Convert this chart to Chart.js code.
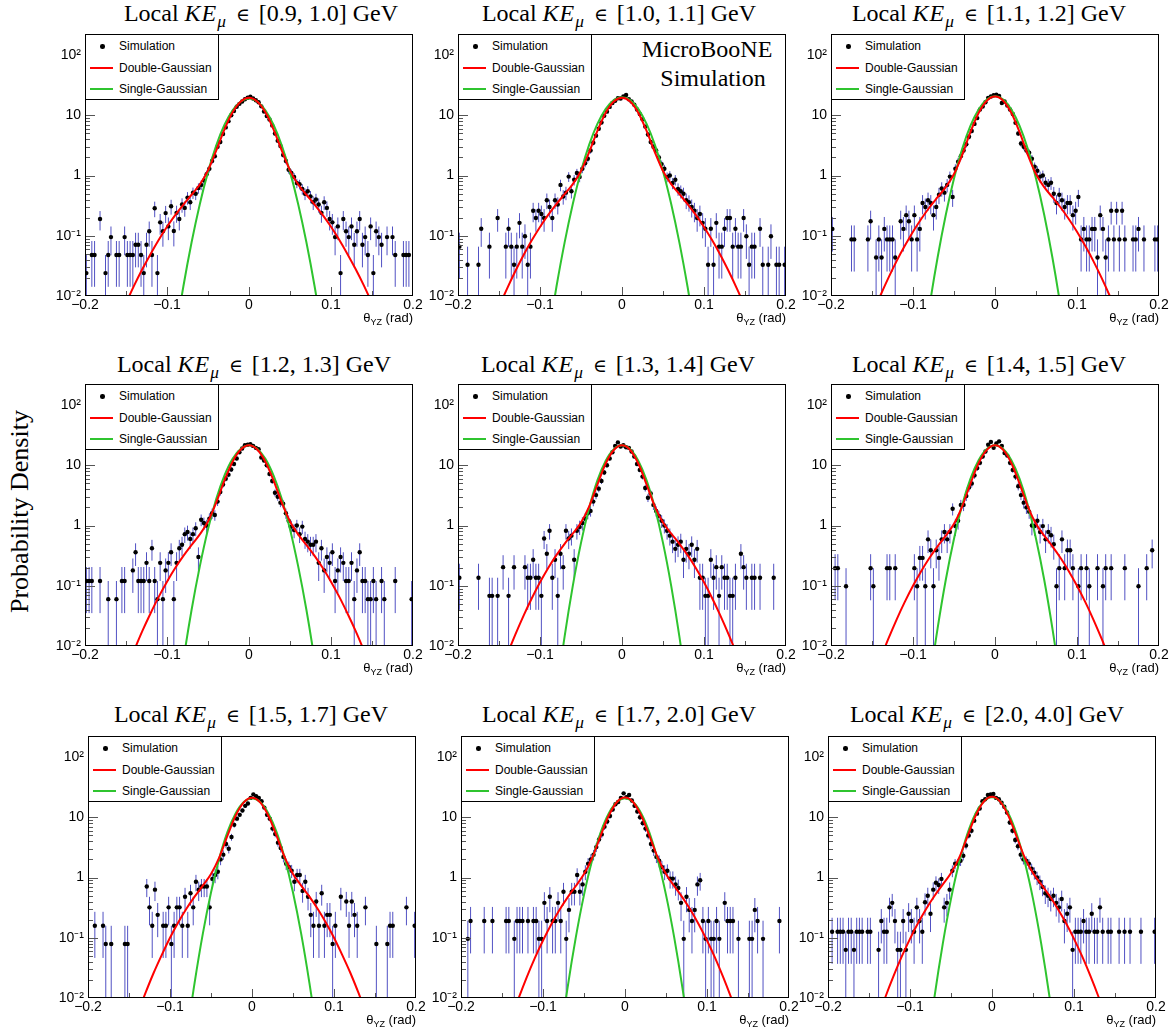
<!DOCTYPE html>
<html>
<head>
<meta charset="UTF-8">
<title>θYZ distributions in bins of local muon kinetic energy</title>
<script src="https://cdn.jsdelivr.net/npm/chart.js"></script>
<style>
    body {
        margin: 0;
        background: #fff;
        width: 1173px;
        height: 1032px;
        position: relative;
        overflow: hidden;
        font-family: "Liberation Sans", Arial, sans-serif;
    }
    .panel { position: absolute; width: 408px; height: 297px; }
    .panel canvas { position: absolute; left: 0; top: 0; }
    .title {
        position: absolute;
        width: 400px;
        text-align: center;
        font-family: "Liberation Serif", "Times New Roman", serif;
        font-size: 24px;
        line-height: 24px;
        white-space: nowrap;
    }
    .title i { letter-spacing: 1px; }
    .title sub {
        font-size: 0.72em;
        vertical-align: baseline;
        position: relative;
        top: 0.35em;
        line-height: 0;
        letter-spacing: 0;
    }
    .title .rel { font-family: "DejaVu Serif", serif; font-size: 0.78em; margin: 0 3px; }
    .legend {
        position: absolute;
        left: 60px;
        top: 5px;
        width: 134px;
        height: 66px;
        box-sizing: border-box;
        border: 1px solid #000;
        background: #fff;
        font-size: 12px;
    }
    .legend .entry { position: absolute; left: 0; width: 132px; height: 14px; line-height: 14px; }
    .legend .text { position: absolute; left: 33px; top: 0; white-space: nowrap; }
    .legend .dot { position: absolute; left: 14px; top: 5px; width: 4.5px; height: 4.5px; border-radius: 50%; background: #000; }
    .legend .line { position: absolute; left: 4px; top: 6px; width: 23px; height: 2px; }
    .axis-title {
        position: absolute;
        right: 20px;
        top: 282px;
        font-size: 13px;
        line-height: 13px;
        white-space: nowrap;
    }
    .axis-title sub { font-size: 9px; vertical-align: baseline; position: relative; top: 3px; line-height: 0; }
    .serif {
        position: absolute;
        font-family: "Liberation Serif", "Times New Roman", serif;
        white-space: nowrap;
    }
</style>
</head>
<body>
<div class="serif" style="left:-80px; top:498px; width:200px; text-align:center; font-size:26px; line-height:30px; transform:rotate(-90deg);">Probability Density</div>
<div class="serif" style="left:607px; top:37px; width:200px; text-align:center; font-size:24px; line-height:24px;">MicroBooNE</div>
<div class="serif" style="left:613px; top:66px; width:200px; text-align:center; font-size:24px; line-height:24px;">Simulation</div>

<script>
// Histogram binning of θYZ (rad)
const NBINS = 120, X_MIN = -0.2, X_MAX = 0.2;
const Y_MIN = 0.01, Y_MAX = 224;

const X_TICKS = [-0.2, -0.1, 0, 0.1, 0.2];
const X_TICK_LABELS = ['−0.2', '−0.1', '0', '0.1', '0.2'];
const Y_TICKS = [0.01, 0.1, 1, 10, 100];
const Y_TICK_LABELS = ['10⁻²', '10⁻¹', '1', '10', '10²'];

// Local muon kinetic energy slices (GeV)
const KE_BINS = [[0.9, 1.0], [1.0, 1.1], [1.1, 1.2], [1.2, 1.3], [1.3, 1.4],
                 [1.4, 1.5], [1.5, 1.7], [1.7, 2.0], [2.0, 4.0]];

// Density carried by a single entry in each slice (sets the error bars)
const UNIT = [0.0238, 0.0328, 0.0435, 0.060, 0.068, 0.098, 0.079, 0.096, 0.063];

// Simulated probability density per bin (0 = empty bin)
const SIM_1 = [
    .024, 0, .048, .048, 0, .19, 0, .024, .048, .095,
    0, .048, .048, 0, .095, .048, .048, .048, .071, .071,
    .048, .024, .071, .119, .048, .286, .024, .167, .119, .238,
    .143, .31, .12, .24, .19, .33, .29, .43, .36, .52,
    .50, .62, .70, .83, 1.05, 1.3, 1.75, 2.1, 3.0, 3.6,
    4.9, 6.3, 8.0, 10.0, 11.8, 13.9, 15.5, 17.0, 18.5, 19.6,
    20.3, 19.0, 17.8, 16.5, 14.1, 11.6, 9.7, 8.5, 6.8, 5.0,
    3.8, 3.1, 2.2, 1.75, 1.25, 1.1, .95, .75, .72, .6,
    .5, .55, .45, .36, .4, .33, .24, .36, .29, .19,
    .167, .095, .143, .024, .19, .119, .095, .143, .071, .119,
    .19, .071, .095, .048, .143, .024, .119, .095, .071, 0,
    .095, 0, .095, .048, 0, 0, .048, .048, .048, 0
];
const SIM_2 = [
    .066, 0, 0, .033, 0, 0, 0, .033, .131, 0,
    0, .066, 0, 0, .197, 0, 0, .066, .131, .066,
    .033, .066, .164, .066, .098, .033, .066, .26, .197, .26,
    .23, .197, .39, .30, .197, .39, .33, .70, .45, .52,
    .96, .55, .85, 1.1, .95, 1.3, 1.6, 1.9, 2.6, 3.5,
    4.6, 6.0, 7.6, 9.8, 11.5, 13.8, 16.0, 17.5, 19.2, 19.0,
    20.5, 21.8, 18.5, 17.0, 15.0, 12.5, 10.5, 8.6, 6.5, 4.8,
    3.6, 3.0, 2.6, 2.0, 1.55, 1.3, .95, 1.0, .75, .85,
    .6, .55, .50, .39, .36, .30, .26, .197, .23, .164,
    .131, .033, .131, .033, .164, .066, .066, .131, .197, .197,
    .066, .131, .066, .066, .197, .098, .033, .066, .066, 0,
    .131, .033, 0, .033, .098, 0, .033, .033, 0, .033
];
const SIM_3 = [
    .13, 0, 0, 0, 0, 0, 0, .087, .087, 0,
    0, 0, 0, .087, .174, 0, .0435, .087, .0435, .13,
    .087, .087, .087, .0435, 0, .174, .13, .22, .174, .087,
    .22, .087, .13, .35, .30, .39, .35, .22, .30, .48,
    .61, .52, .70, .96, .44, 1.3, 1.7, 2.1, 2.6, 3.3,
    4.4, 5.5, 7.2, 9.0, 12.5, 14.0, 16.5, 19.5, 20.5, 21.5,
    22.0, 21.0, 16.0, 17.0, 14.5, 12.5, 10.5, 7.5, 5.0, 3.4,
    3.0, 2.6, 2.4, 1.9, 1.4, 1.2, .96, 1.0, .76, .70,
    .76, .50, .35, .48, .39, .30, .35, .35, .22, .26,
    .44, .087, .13, .087, .087, .13, .13, .0435, .22, .13,
    .0435, .087, .26, .087, .26, .087, .26, .087, 0, 0,
    .087, .087, .13, 0, .087, 0, 0, 0, .087, .087
];
const SIM_4 = [
    .12, .12, .12, 0, 0, .12, 0, 0, .06, 0,
    0, .06, 0, .12, .12, 0, 0, .18, .36, .12,
    .12, .12, .24, .12, .42, .12, .06, .24, .06, .18,
    .24, .36, .06, .24, .42, .48, .72, .78, .6, .72,
    .9, .3, 1.25, 1.1, 1.0, 1.3, 1.6, 1.5, 2.5, 3.6,
    4.8, 6.0, 7.0, 8.5, 10.5, 13.0, 16.5, 19.0, 21.5, 22.0,
    22.5, 21.0, 19.5, 18.5, 13.5, 12.0, 10.0, 7.2, 5.5, 3.5,
    3.0, 2.4, 2.3, 1.6, 1.2, .96, .84, 1.0, .72, .96,
    .6, .54, .48, .48, .54, .24, .42, .18, .30, .24,
    .36, .12, .18, .30, .24, .12, .12, .24, .06, .18,
    .36, .12, .12, .06, .06, .12, .06, 0, .12, .06,
    0, 0, 0, .12, 0, 0, 0, 0, 0, .06
];
const SIM_5 = [
    .136, 0, 0, 0, 0, 0, 0, .136, 0, 0,
    0, .068, .068, 0, .068, 0, .204, 0, .068, 0,
    .204, 0, 0, 0, .204, .136, .136, .27, .136, .136,
    .068, .61, .34, .82, .136, .27, .068, .34, .204, .82,
    .61, .68, .27, .82, .95, 1.1, 1.3, 1.6, 1.75, 2.5,
    3.2, 4.1, 5.5, 7.6, 10.0, 13.0, 16.5, 21.0, 24.0, 20.5,
    21.5, 20.0, 19.5, 17.0, 14.0, 10.5, 8.4, 6.5, 4.2, 2.9,
    3.4, 2.2, 1.75, 1.45, 1.2, 1.0, .82, .68, .54, .41,
    .48, .54, .27, .41, .34, .48, .27, .41, .136, .136,
    .068, .068, .27, .136, .204, .068, .204, .136, .136, .068,
    .068, .136, 0, .34, .204, .136, 0, .136, .136, 0,
    .136, 0, 0, 0, 0, .136, 0, 0, 0, 0
];
const SIM_6 = [
    0, .196, .196, 0, 0, .098, 0, 0, 0, 0,
    0, 0, 0, 0, .196, .098, 0, 0, 0, 0,
    .196, .196, 0, .196, 0, 0, 0, 0, 0, 0,
    .196, .098, .29, .29, .098, .59, .39, .098, .39, .29,
    .59, .78, .59, .78, 1.9, .98, 1.2, 2.2, 2.2, 3.1,
    4.3, 5.0, 6.8, 9.0, 11.0, 14.0, 17.0, 22.0, 24.5, 19.5,
    23.0, 25.0, 21.0, 16.0, 14.5, 11.0, 8.4, 6.5, 4.5, 3.2,
    2.4, 2.0, 1.7, 1.0, .98, 1.2, .78, .98, .59, .78,
    .69, .49, .098, .196, .59, .196, .39, .39, .196, 0,
    .098, .196, 0, .196, .098, 0, 0, .196, 0, .098,
    .196, 0, .196, 0, 0, 0, 0, .196, 0, 0,
    0, 0, .098, 0, 0, .196, 0, .39, 0, 0
];
const SIM_7 = [
    0, 0, .158, 0, 0, .158, .079, 0, .079, 0,
    0, 0, 0, .079, .079, 0, 0, 0, 0, 0,
    0, .71, .32, .158, .63, .24, 0, .158, .158, .32,
    .079, .158, .32, .32, .158, .48, .158, .55, .32, .85,
    .63, .71, .71, .71, .32, .95, 1.1, 1.25, 2.0, 2.4,
    3.6, 3.0, 4.7, 7.5, 9.5, 11.0, 13.0, 15.5, 17.0, 21.0,
    24.0, 22.5, 21.0, 18.5, 14.5, 11.0, 9.5, 6.5, 5.3, 3.8,
    3.1, 2.2, 1.7, 1.5, 1.3, .85, 1.1, 1.1, .6, .85,
    .48, .24, .158, .40, .158, .55, .158, .24, .24, .079,
    .158, 0, .48, 0, .40, .158, .40, .24, .158, 0,
    0, .32, 0, 0, 0, .079, 0, 0, 0, .079,
    .158, .158, 0, 0, 0, 0, .32, 0, 0, .158
];
const SIM_8 = [
    0, 0, .096, .19, 0, 0, 0, 0, .19, 0,
    0, .19, 0, 0, 0, 0, .19, .19, 0, .096,
    .19, .19, .19, 0, .19, 0, .19, .19, .096, .096,
    .38, .19, .48, .19, .19, .38, .19, .58, .096, .29,
    .58, .58, 1.1, .58, .77, 1.25, 1.7, 2.0, 2.4, 3.2,
    4.3, 5.2, 7.0, 8.5, 10.5, 13.5, 16.5, 18.0, 21.0, 25.0,
    21.5, 23.5, 19.0, 15.5, 12.5, 10.0, 8.0, 6.5, 5.0, 3.6,
    2.8, 2.2, 1.9, 1.5, 1.25, 1.3, .96, .96, .77, .67,
    .38, .096, .48, .29, .19, .29, .77, .90, .19, .096,
    .19, .096, .096, .19, .096, 0, .38, .19, .19, .19,
    0, .096, 0, 0, 0, .096, .096, .29, .19, 0,
    .096, 0, 0, 0, 0, 0, .19, 0, 0, 0
];
const SIM_9 = [
    0, .126, 0, .126, .126, .126, .063, .126, .126, .063,
    .126, .126, .126, 0, .126, .126, 0, 0, .063, .19,
    .126, .126, .32, .38, .19, .063, .063, .19, .063, .25,
    .19, .126, .32, .19, .126, .39, .5, .25, .63, .82,
    .75, .95, .32, .38, .63, 1.3, 1.7, 1.7, 1.9, 2.3,
    3.4, 5.0, 6.0, 8.8, 11.5, 14.0, 18.5, 20.0, 23.5, 24.0,
    24.5, 21.0, 20.0, 17.5, 15.0, 12.0, 8.2, 6.0, 4.2, 3.3,
    2.4, 2.0, 1.9, 1.7, 1.4, 1.2, 1.0, .85, .7, .55,
    .5, .44, .5, .38, .32, .44, .19, .25, .32, .063,
    .126, .126, .126, .19, .126, .126, .25, .126, .126, .32,
    .126, 0, .126, .126, 0, 0, .126, 0, .126, 0,
    .126, 0, 0, 0, .126, 0, 0, 0, 0, .126
];

// Fitted curves, sampled every 0.01 rad
const DG_X = [-0.16, -0.15, -0.14, -0.13, -0.12, -0.11, -0.10, -0.09, -0.08, -0.07, -0.06,
              -0.05, -0.04, -0.03, -0.02, -0.01, 0, 0.01, 0.02, 0.03, 0.04, 0.05,
              0.06, 0.07, 0.08, 0.09, 0.10, 0.11, 0.12, 0.13, 0.14, 0.15, 0.16];
const SG_X = [-0.09, -0.08, -0.07, -0.06, -0.05, -0.04, -0.03, -0.02, -0.01, 0,
              0.01, 0.02, 0.03, 0.04, 0.05, 0.06, 0.07, 0.08, 0.09];

const DG_1 = [0.0037, 0.0076, 0.015, 0.028, 0.050, 0.086, 0.141, 0.22, 0.33, 0.48, 0.71, 1.22, 2.6, 5.8, 11.2, 16.9, 19.5,
              16.9, 11.2, 5.8, 2.6, 1.22, 0.71, 0.48, 0.33, 0.22, 0.141, 0.086, 0.050, 0.028, 0.015, 0.0076, 0.0037];
const SG_1 = [0.0021, 0.0145, 0.078, 0.335, 1.15, 3.15, 6.9, 12.1, 17.0, 19.0, 17.0, 12.1, 6.9, 3.15, 1.15, 0.335, 0.078, 0.0145, 0.0021];

const DG_2 = [0.0031, 0.0066, 0.0134, 0.026, 0.048, 0.084, 0.140, 0.222, 0.336, 0.49, 0.72, 1.19, 2.45, 5.5, 10.9, 16.9, 19.6,
              16.9, 10.9, 5.5, 2.45, 1.19, 0.72, 0.49, 0.336, 0.222, 0.140, 0.084, 0.048, 0.026, 0.0134, 0.0066, 0.0031];
const SG_2 = [0.0021, 0.0141, 0.077, 0.337, 1.18, 3.26, 7.2, 12.7, 17.9, 20.0, 17.9, 12.7, 7.2, 3.26, 1.18, 0.337, 0.077, 0.0141, 0.0021];

const DG_3 = [0.0021, 0.0047, 0.010, 0.020, 0.038, 0.068, 0.117, 0.19, 0.295, 0.437, 0.642, 1.06, 2.21, 5.24, 10.9, 17.5, 20.5,
              17.5, 10.9, 5.24, 2.21, 1.06, 0.642, 0.437, 0.295, 0.19, 0.117, 0.068, 0.038, 0.020, 0.010, 0.0047, 0.0021];
const SG_3 = [0.00078, 0.0066, 0.0435, 0.223, 0.89, 2.77, 6.67, 12.5, 18.3, 20.7, 18.3, 12.5, 6.67, 2.77, 0.89, 0.223, 0.0435, 0.0066, 0.00078];

const DG_4 = [0.0017, 0.0039, 0.0085, 0.0178, 0.035, 0.066, 0.117, 0.197, 0.313, 0.476, 0.713, 1.17, 2.41, 5.58, 11.5, 18.3, 21.5,
              18.3, 11.5, 5.58, 2.41, 1.17, 0.713, 0.476, 0.313, 0.197, 0.117, 0.066, 0.035, 0.0178, 0.0085, 0.0039, 0.0017];
const SG_4 = [0.00066, 0.0058, 0.040, 0.21, 0.87, 2.76, 6.77, 12.9, 18.9, 21.5, 18.9, 12.9, 6.77, 2.76, 0.87, 0.21, 0.040, 0.0058, 0.00066];

const DG_5 = [0.0013, 0.0031, 0.0072, 0.0156, 0.032, 0.062, 0.114, 0.198, 0.323, 0.498, 0.738, 1.12, 2.08, 4.79, 10.6, 17.95, 21.5,
              17.95, 10.6, 4.79, 2.08, 1.12, 0.738, 0.498, 0.323, 0.198, 0.114, 0.062, 0.032, 0.0156, 0.0072, 0.0031, 0.0013];
const SG_5 = [0.00012, 0.0015, 0.0143, 0.0998, 0.516, 1.97, 5.61, 11.8, 18.5, 21.5, 18.5, 11.8, 5.61, 1.97, 0.516, 0.0998, 0.0143, 0.0015, 0.00012];

const DG_6 = [0.001, 0.0025, 0.006, 0.0132, 0.0275, 0.054, 0.100, 0.175, 0.289, 0.452, 0.678, 1.07, 2.09, 4.93, 10.8, 18.0, 21.5,
              18.0, 10.8, 4.93, 2.09, 1.07, 0.678, 0.452, 0.289, 0.175, 0.100, 0.054, 0.0275, 0.0132, 0.006, 0.0025, 0.001];
const SG_6 = [0.0002, 0.0023, 0.0196, 0.126, 0.604, 2.19, 5.94, 12.1, 18.6, 21.5, 18.6, 12.1, 5.94, 2.19, 0.604, 0.126, 0.0196, 0.0023, 0.0002];

const DG_7 = [0.0008, 0.0021, 0.0052, 0.012, 0.026, 0.052, 0.100, 0.179, 0.303, 0.481, 0.733, 1.15, 2.15, 4.9, 10.6, 17.7, 21.2,
              17.7, 10.6, 4.9, 2.15, 1.15, 0.733, 0.481, 0.303, 0.179, 0.100, 0.052, 0.026, 0.012, 0.0052, 0.0021, 0.0008];
const SG_7 = [0.00018, 0.0021, 0.0178, 0.116, 0.565, 2.06, 5.66, 11.6, 17.9, 20.7, 17.9, 11.6, 5.66, 2.06, 0.565, 0.116, 0.0178, 0.0021, 0.00018];

const DG_8 = [0.0006, 0.0016, 0.0041, 0.0097, 0.0218, 0.046, 0.090, 0.166, 0.288, 0.468, 0.725, 1.14, 2.13, 4.84, 10.5, 17.8, 21.3,
              17.8, 10.5, 4.84, 2.13, 1.14, 0.725, 0.468, 0.288, 0.166, 0.090, 0.046, 0.0218, 0.0097, 0.0041, 0.0016, 0.0006];
const SG_8 = [0.00013, 0.0016, 0.0149, 0.1015, 0.516, 1.95, 5.48, 11.5, 17.9, 20.7, 17.9, 11.5, 5.48, 1.95, 0.516, 0.1015, 0.0149, 0.0016, 0.00013];

const DG_9 = [0.0006, 0.0017, 0.0043, 0.0104, 0.0233, 0.049, 0.096, 0.177, 0.307, 0.499, 0.769, 1.19, 2.14, 4.8, 10.6, 18.2, 21.9,
              18.2, 10.6, 4.8, 2.14, 1.19, 0.769, 0.499, 0.307, 0.177, 0.096, 0.049, 0.0233, 0.0104, 0.0043, 0.0017, 0.0006];
const SG_9 = [0.00007, 0.0010, 0.0107, 0.080, 0.443, 1.79, 5.31, 11.6, 18.4, 21.5, 18.4, 11.6, 5.31, 1.79, 0.443, 0.080, 0.0107, 0.0010, 0.00007];

const SIMS = [SIM_1, SIM_2, SIM_3, SIM_4, SIM_5, SIM_6, SIM_7, SIM_8, SIM_9];
const DGS = [DG_1, DG_2, DG_3, DG_4, DG_5, DG_6, DG_7, DG_8, DG_9];
const SGS = [SG_1, SG_2, SG_3, SG_4, SG_5, SG_6, SG_7, SG_8, SG_9];

// Page layout: top-left corner of each plot frame, title centre / baseline
const FRAMES = [[85, 34], [458, 34], [831, 34], [85, 384], [458, 384], [831, 384], [88, 736], [461, 736], [828, 736]];
const TITLE_X = [261, 619, 989, 254, 618, 989, 251, 619, 987];
const TITLE_BASE = [21, 371.7, 722];

const AXIS_W = 60, PAD_TOP = 5, PAD_RIGHT = 20, AXIS_H = 30;
const RED = '#ff0000', GREEN = '#2fc42f', ERR_COLOR = 'rgba(50, 50, 185, 0.85)';

const binCenter = i => X_MIN + (i + 0.5) * (X_MAX - X_MIN) / NBINS;

Chart.defaults.font.family = '"Liberation Sans", Arial, sans-serif';
Chart.defaults.color = '#000';

// Error bars under the markers, plus the ROOT-style frame with inward ticks
const rootFrame = {
    id: 'rootFrame',
    beforeDatasetsDraw(chart, args, opts) {
        const { ctx, chartArea: a, scales: { x, y } } = chart;
        ctx.save();
        ctx.beginPath();
        ctx.rect(a.left, a.top, a.right - a.left, a.bottom - a.top);
        ctx.clip();
        ctx.strokeStyle = ERR_COLOR;
        ctx.lineWidth = 1;
        ctx.beginPath();
        opts.values.forEach((v, i) => {
            if (!(v > 0)) return;
            const err = Math.sqrt(v * opts.unit);
            const px = x.getPixelForValue(binCenter(i));
            const top = y.getPixelForValue(v + err);
            const bot = v - err > 0 ? y.getPixelForValue(v - err) : a.bottom;
            ctx.moveTo(px, top);
            ctx.lineTo(px, Math.min(bot, a.bottom));
        });
        ctx.stroke();
        ctx.restore();
    },
    afterDraw(chart) {
        const { ctx, chartArea: a, scales: { x, y } } = chart;
        ctx.save();
        ctx.lineWidth = 1;
        ctx.strokeStyle = '#555';
        ctx.beginPath();
        // x ticks every 0.05, pointing up from the bottom edge
        for (let k = -3; k <= 3; k++) {
            const px = Math.round(x.getPixelForValue(k * 0.05)) + 0.5;
            const len = k % 2 === 0 ? 9 : 5;
            ctx.moveTo(px, a.bottom);
            ctx.lineTo(px, a.bottom - len);
        }
        // logarithmic ticks on the left edge
        for (let d = -2; d <= 2; d++) {
            for (let m = 1; m <= 9; m++) {
                const v = m * Math.pow(10, d);
                if (v <= Y_MIN || v >= Y_MAX) continue;
                const py = Math.round(y.getPixelForValue(v)) + 0.5;
                ctx.moveTo(a.left, py);
                ctx.lineTo(a.left + (m === 1 ? 10 : 5), py);
            }
        }
        ctx.stroke();
        ctx.strokeStyle = '#000';
        ctx.strokeRect(a.left + 0.5, a.top + 0.5, a.right - a.left - 1, a.bottom - a.top - 1);
        ctx.restore();
    }
};

function buildPanel(p) {
    const [fx, fy] = FRAMES[p];
    const row = Math.floor(p / 3);

    const title = document.createElement('div');
    title.className = 'title';
    title.style.left = (TITLE_X[p] - 200) + 'px';
    title.style.top = (TITLE_BASE[row] - 20.1) + 'px';
    const [lo, hi] = KE_BINS[p];
    title.innerHTML = 'Local <i>KE</i><sub><i>μ</i></sub> <span class="rel">∈</span> [' +
        lo.toFixed(1) + ', ' + hi.toFixed(1) + '] GeV';
    document.body.appendChild(title);

    const box = document.createElement('div');
    box.className = 'panel';
    box.style.left = (fx - AXIS_W) + 'px';
    box.style.top = (fy - PAD_TOP) + 'px';
    const canvas = document.createElement('canvas');
    canvas.width = 408;
    canvas.height = 297;
    box.appendChild(canvas);

    const legend = document.createElement('div');
    legend.className = 'legend';
    legend.innerHTML =
        '<div class="entry" style="top:4px"><span class="dot"></span><span class="text">Simulation</span></div>' +
        '<div class="entry" style="top:25.7px"><span class="line" style="background:' + RED + '"></span><span class="text">Double-Gaussian</span></div>' +
        '<div class="entry" style="top:47.3px"><span class="line" style="background:' + GREEN + '"></span><span class="text">Single-Gaussian</span></div>';
    box.appendChild(legend);

    const axisTitle = document.createElement('div');
    axisTitle.className = 'axis-title';
    axisTitle.innerHTML = 'θ<sub>YZ</sub> (rad)';
    box.appendChild(axisTitle);
    document.body.appendChild(box);

    const sim = SIMS[p];
    new Chart(canvas, {
        type: 'scatter',
        data: {
            datasets: [{
                label: 'Double-Gaussian',
                data: DG_X.map((x, i) => ({ x, y: DGS[p][i] })),
                showLine: true,
                borderColor: RED,
                borderWidth: 2,
                pointRadius: 0,
                cubicInterpolationMode: 'monotone',
                capBezierPoints: false,
                order: 0
            }, {
                label: 'Single-Gaussian',
                data: SG_X.map((x, i) => ({ x, y: SGS[p][i] })),
                showLine: true,
                borderColor: GREEN,
                borderWidth: 2,
                pointRadius: 0,
                cubicInterpolationMode: 'monotone',
                capBezierPoints: false,
                order: 1
            }, {
                label: 'Simulation',
                data: sim.map((v, i) => ({ x: binCenter(i), y: v })).filter(d => d.y > 0),
                showLine: false,
                pointRadius: 2.2,
                pointBackgroundColor: '#000',
                pointBorderWidth: 0,
                order: 2
            }]
        },
        options: {
            responsive: false,
            animation: false,
            events: [],
            layout: { padding: { top: PAD_TOP, right: PAD_RIGHT, left: 0, bottom: 0 } },
            plugins: {
                legend: { display: false },
                tooltip: { enabled: false },
                rootFrame: { values: sim, unit: UNIT[p] }
            },
            scales: {
                x: {
                    type: 'linear',
                    min: X_MIN,
                    max: X_MAX,
                    grid: { display: false, drawTicks: false },
                    border: { display: false },
                    afterBuildTicks: s => { s.ticks = X_TICKS.map(v => ({ value: v })); },
                    afterFit: s => { s.height = AXIS_H; s.paddingLeft = 0; s.paddingRight = 0; },
                    ticks: {
                        autoSkip: false,
                        maxRotation: 0,
                        padding: 1,
                        font: { size: 14 },
                        callback: (v, i) => X_TICK_LABELS[i]
                    }
                },
                y: {
                    type: 'logarithmic',
                    min: Y_MIN,
                    max: Y_MAX,
                    grid: { display: false, drawTicks: false },
                    border: { display: false },
                    afterBuildTicks: s => { s.ticks = Y_TICKS.map(v => ({ value: v })); },
                    afterFit: s => { s.width = AXIS_W; s.paddingTop = 0; s.paddingBottom = 0; },
                    ticks: {
                        autoSkip: false,
                        padding: 4,
                        font: { size: 14 },
                        callback: (v, i) => Y_TICK_LABELS[i]
                    }
                }
            }
        },
        plugins: [rootFrame]
    });
}

for (let p = 0; p < 9; p++) buildPanel(p);
</script>
</body>
</html>
